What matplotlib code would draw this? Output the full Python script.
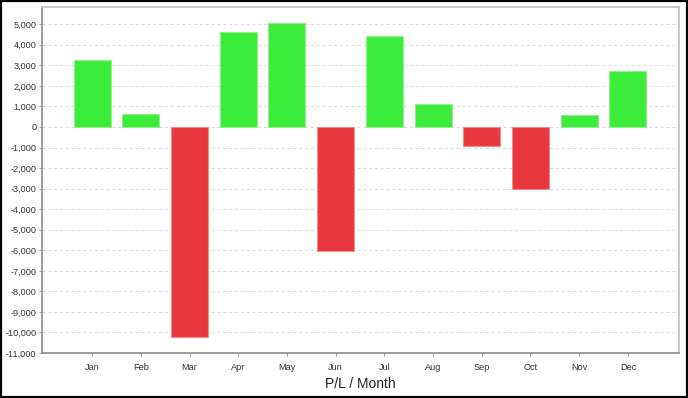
import matplotlib
matplotlib.use("Agg")
import matplotlib.pyplot as plt
from matplotlib.patches import Rectangle
from matplotlib.ticker import FuncFormatter, MultipleLocator

months = ["Jan", "Feb", "Mar", "Apr", "May", "Jun", "Jul", "Aug", "Sep", "Oct", "Nov", "Dec"]
pnl = [3240, 630, -10210, 4600, 5070, -6050, 4430, 1120, -920, -3000, 580, 2700]

GREEN = "#3deb3b"
GREEN_EDGE = "#8ff08c"
RED = "#e8383d"
RED_EDGE = "#f08a8e"

plt.rcParams["font.family"] = ["Liberation Sans", "DejaVu Sans"]

fig = plt.figure(figsize=(6.88, 3.98), dpi=100)
fig.patch.set_facecolor("white")
ax = fig.add_axes([0.061, 0.113, 0.926, 0.869])

x = list(range(len(months)))
colors = [GREEN if v >= 0 else RED for v in pnl]
edges = [GREEN_EDGE if v >= 0 else RED_EDGE for v in pnl]
ax.bar(x, pnl, width=0.76, color=colors, edgecolor=edges, linewidth=0.8, zorder=3)

ax.set_xlim(-1.03, 12.05)
ax.set_ylim(-11000, 5830)
ax.yaxis.set_major_locator(MultipleLocator(1000))
ax.yaxis.set_major_formatter(FuncFormatter(lambda v, p: f"{int(v):,}"))
ax.set_xticks(x)
ax.set_xticklabels(months)

ax.grid(axis="y", color="#d8d8d8", linestyle=(0, (3, 3)), linewidth=0.7, zorder=0)
ax.grid(axis="x", visible=False)

for side in ["top", "right"]:
    ax.spines[side].set_color("#c0c0c0")
    ax.spines[side].set_linewidth(1.2)
for side in ["left", "bottom"]:
    ax.spines[side].set_color("#8a8a8a")
    ax.spines[side].set_linewidth(1.2)

ax.tick_params(axis="both", labelsize=6.6, colors="#333333", length=2, width=0.6)
ax.tick_params(axis="y", pad=2)
ax.tick_params(axis="x", pad=5)
ax.tick_params(axis="both", color="#8a8a8a")
ax.set_xlabel("P/L / Month", fontsize=10, color="#222222", labelpad=4)

# black frame round the whole image
fig.add_artist(Rectangle((0, 0), 1, 1, transform=fig.transFigure, fill=False,
                         edgecolor="black", linewidth=3, clip_on=False))

fig.savefig("out.png", dpi=100)
